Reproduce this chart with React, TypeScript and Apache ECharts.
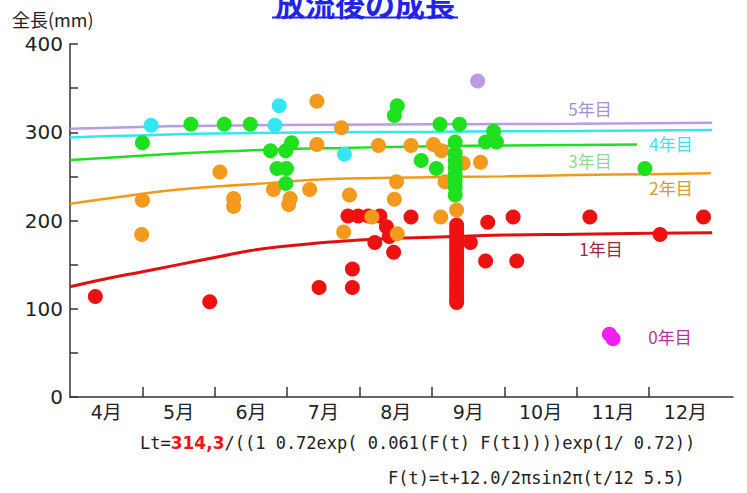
import React, { useEffect, useRef } from 'react';
import * as echarts from 'echarts';

// ---- tick labels ----
const monthLabels = ['4月', '5月', '6月', '7月', '8月', '9月', '10月', '11月', '12月'];
const monthBoundaries = [5, 6, 7, 8, 9, 10, 11, 12];

// ---- scatter data: [month, total length mm] ----
const age0 = [[11.45, 71], [11.5, 66]];
const age1 = [
  [4.35, 114], [5.93, 108], [7.44, 124], [7.9, 124], [7.9, 145],
  [7.84, 205], [7.98, 205], [8.12, 205], [8.28, 205], [8.71, 204],
  [8.37, 193], [8.41, 182], [8.21, 175], [8.47, 164],
  [9.34, 195], [9.34, 190], [9.34, 185], [9.34, 180], [9.34, 175], [9.34, 170],
  [9.34, 165], [9.34, 160], [9.34, 155], [9.34, 150], [9.34, 145], [9.34, 140],
  [9.34, 135], [9.34, 130], [9.34, 125], [9.34, 120], [9.34, 115], [9.34, 110], [9.34, 107],
  [9.53, 175], [9.77, 198], [9.74, 154], [10.12, 204], [10.17, 154],
  [11.18, 204], [12.15, 184], [12.75, 204],
];
const age2 = [
  [4.99, 184], [5.0, 223], [6.07, 255], [6.26, 225], [6.26, 216], [6.81, 235],
  [7.31, 235], [7.04, 225], [7.02, 218], [7.41, 335], [7.41, 286], [7.75, 305],
  [8.26, 285], [8.71, 285], [9.02, 286], [9.13, 279], [9.43, 265], [9.67, 266],
  [8.51, 244], [9.18, 244], [7.86, 229], [8.48, 224], [9.12, 204], [9.34, 212],
  [8.17, 204], [7.78, 187], [8.52, 185],
];
const age3 = [
  [5.0, 288], [5.67, 309], [6.13, 309], [6.49, 309], [6.77, 279], [7.06, 288],
  [6.98, 279], [6.86, 259], [6.99, 259], [6.98, 242], [8.52, 330], [8.48, 319],
  [9.11, 309], [9.38, 309], [9.32, 289], [8.85, 268], [9.06, 259],
  [9.32, 276], [9.32, 268], [9.32, 260], [9.32, 252], [9.32, 245], [9.32, 238], [9.32, 229],
  [9.85, 301], [9.74, 289], [9.89, 289], [11.94, 259],
];
const age4 = [[5.12, 308], [6.89, 330], [6.83, 308], [7.79, 275]];
const age5 = [[9.63, 358]];

// ---- growth curves ----
const curve1 = [
  [4.0, 125], [4.5, 134], [5.0, 142], [5.5, 150], [6.0, 158], [6.5, 166], [7.0, 171],
  [7.5, 175], [8.0, 178], [8.5, 180], [9.0, 181], [10.0, 183.5], [11.0, 184.5],
  [12.0, 185.5], [12.87, 186],
];
const curve2 = [
  [4.0, 219], [4.7, 227], [5.5, 235], [6.5, 241], [7.6, 247], [9.0, 249], [10.0, 250],
  [11.0, 251.5], [12.0, 252.5], [12.85, 253.5],
];
const curve3 = [
  [4.0, 268.5], [4.7, 272], [5.5, 276], [6.5, 279.5], [7.6, 282], [9.0, 284], [10.0, 285],
  [11.0, 285.5], [11.83, 286],
];
const curve4 = [
  [4.0, 294], [4.7, 296], [6.0, 298.5], [7.6, 300], [9.0, 300.5], [10.0, 301], [11.0, 301.5],
  [12.0, 302], [12.87, 302.5],
];
const curve5 = [
  [4.0, 304], [4.7, 305.5], [6.0, 307.5], [7.6, 308.5], [9.0, 309], [10.0, 309.3],
  [11.0, 309.6], [12.0, 310.3], [12.87, 310.8],
];

const FONT = '"DejaVu Sans", "Noto Sans CJK JP", sans-serif';
const MONO = '"DejaVu Sans Mono", "Noto Sans CJK JP", monospace';
const JFONT = '"Noto Sans CJK JP", "DejaVu Sans", sans-serif';

const C = {
  red: '#ee1111',
  orange: '#f39a1e',
  green: '#1fe01f',
  cyan: '#33e6f2',
  lav: '#b99be6',
  mag: '#f020f0',
};

function scatter(name: string, data: number[][], color: string) {
  return {
    name,
    type: 'scatter',
    data,
    symbolSize: 15,
    itemStyle: { color, opacity: 1 },
    z: 3,
  };
}
function curve(name: string, data: number[][], color: string, width: number) {
  return {
    name,
    type: 'line',
    data,
    smooth: true,
    showSymbol: false,
    symbol: 'none',
    lineStyle: { color, width },
    z: 2,
  };
}

function label(text: string, x: number, y: number, color: string) {
  return {
    type: 'text',
    x,
    y,
    style: {
      text,
      fill: color,
      font: `17px ${JFONT}`,
      align: 'center',
      verticalAlign: 'middle',
    },
  };
}

export default function App() {
  const ref = useRef<HTMLDivElement>(null);
  useEffect(() => {
    const chart = echarts.init(ref.current!, null, { renderer: 'svg' });
    chart.setOption({
      animation: false,
      backgroundColor: '#ffffff',
      grid: { left: 70, right: 14, top: 44, bottom: 96 },
      xAxis: {
        type: 'value',
        min: 4,
        max: 13.157,
        interval: 1,
        splitLine: { show: false },
        axisLine: { onZero: false, lineStyle: { color: '#333', width: 1.5 } },
        axisTick: { show: true, inside: true, length: 10, customValues: monthBoundaries, lineStyle: { color: '#333', width: 1.5 } },
        axisLabel: {
          customValues: monthLabels.map((_, i) => 4.5 + i),
          formatter: (v: number) => monthLabels[Math.round(v - 4.5)] ?? '',
          color: '#222',
          fontSize: 19,
          fontFamily: FONT,
          margin: 5,
        },
      },
      yAxis: {
        type: 'value',
        min: 0,
        max: 400,
        interval: 50,
        splitLine: { show: false },
        axisLine: { show: true, lineStyle: { color: '#333', width: 1.5 } },
        axisTick: { show: true, inside: true, length: 8, lineStyle: { color: '#333', width: 1.5 } },
        axisLabel: {
          formatter: (v: number) => (v % 100 === 0 ? String(v) : ''),
          color: '#222',
          fontSize: 20,
          fontFamily: FONT,
          margin: 7,
        },
      },
      graphic: [
        {
          type: 'text',
          x: 365,
          y: 3,
          style: {
            text: '放流後の成長',
            fill: '#2323e8',
            font: `bold 30px ${JFONT}`,
            align: 'center',
            verticalAlign: 'middle',
          },
        },
        { type: 'rect', shape: { x: 272, y: 16.5, width: 186, height: 2 }, style: { fill: '#2323e8' } },
        {
          type: 'text',
          x: 12,
          y: 19,
          style: { text: '全長(mm)', fill: '#222', font: `18px ${JFONT}`, align: 'left', verticalAlign: 'middle' },
        },
        label('5年目', 590, 108, '#a58fd6'),
        label('4年目', 671, 143, '#3fe0ee'),
        label('3年目', 590, 160, '#8fd88f'),
        label('2年目', 671, 187, '#cf9c3a'),
        label('1年目', 601, 248, '#a3243c'),
        label('0年目', 670, 336, '#b5319a'),
        {
          type: 'text',
          x: 140,
          y: 443,
          style: {
            text: 'Lt={r|314,3}/((1 0.72exp( 0.061(F(t) F(t1))))exp(1/ 0.72))',
            fill: '#222',
            font: `17px ${MONO}`,
            align: 'left',
            verticalAlign: 'middle',
            rich: {
              r: { fill: '#e81818', fontWeight: 'bold', fontSize: 17, fontFamily: FONT },
            },
          },
        },
        {
          type: 'text',
          x: 388,
          y: 478,
          style: {
            text: 'F(t)=t+12.0/2πsin2π(t/12 5.5)',
            fill: '#222',
            font: `17px ${MONO}`,
            align: 'left',
            verticalAlign: 'middle',
          },
        },
      ],
      series: [
        curve('5年目', curve5, C.lav, 2.5),
        curve('4年目', curve4, C.cyan, 2.5),
        curve('3年目', curve3, C.green, 2.5),
        curve('2年目', curve2, '#f09a1a', 2.5),
        curve('1年目', curve1, '#e01010', 3),
        scatter('1年目', age1, C.red),
        scatter('2年目', age2, C.orange),
        scatter('3年目', age3, C.green),
        scatter('4年目', age4, C.cyan),
        scatter('5年目', age5, C.lav),
        scatter('0年目', age0, C.mag),
      ],
    });
    return () => chart.dispose();
  }, []);
  return <div ref={ref} style={{ position: 'fixed', left: 0, top: 0, width: 747, height: 493 }} />;
}
